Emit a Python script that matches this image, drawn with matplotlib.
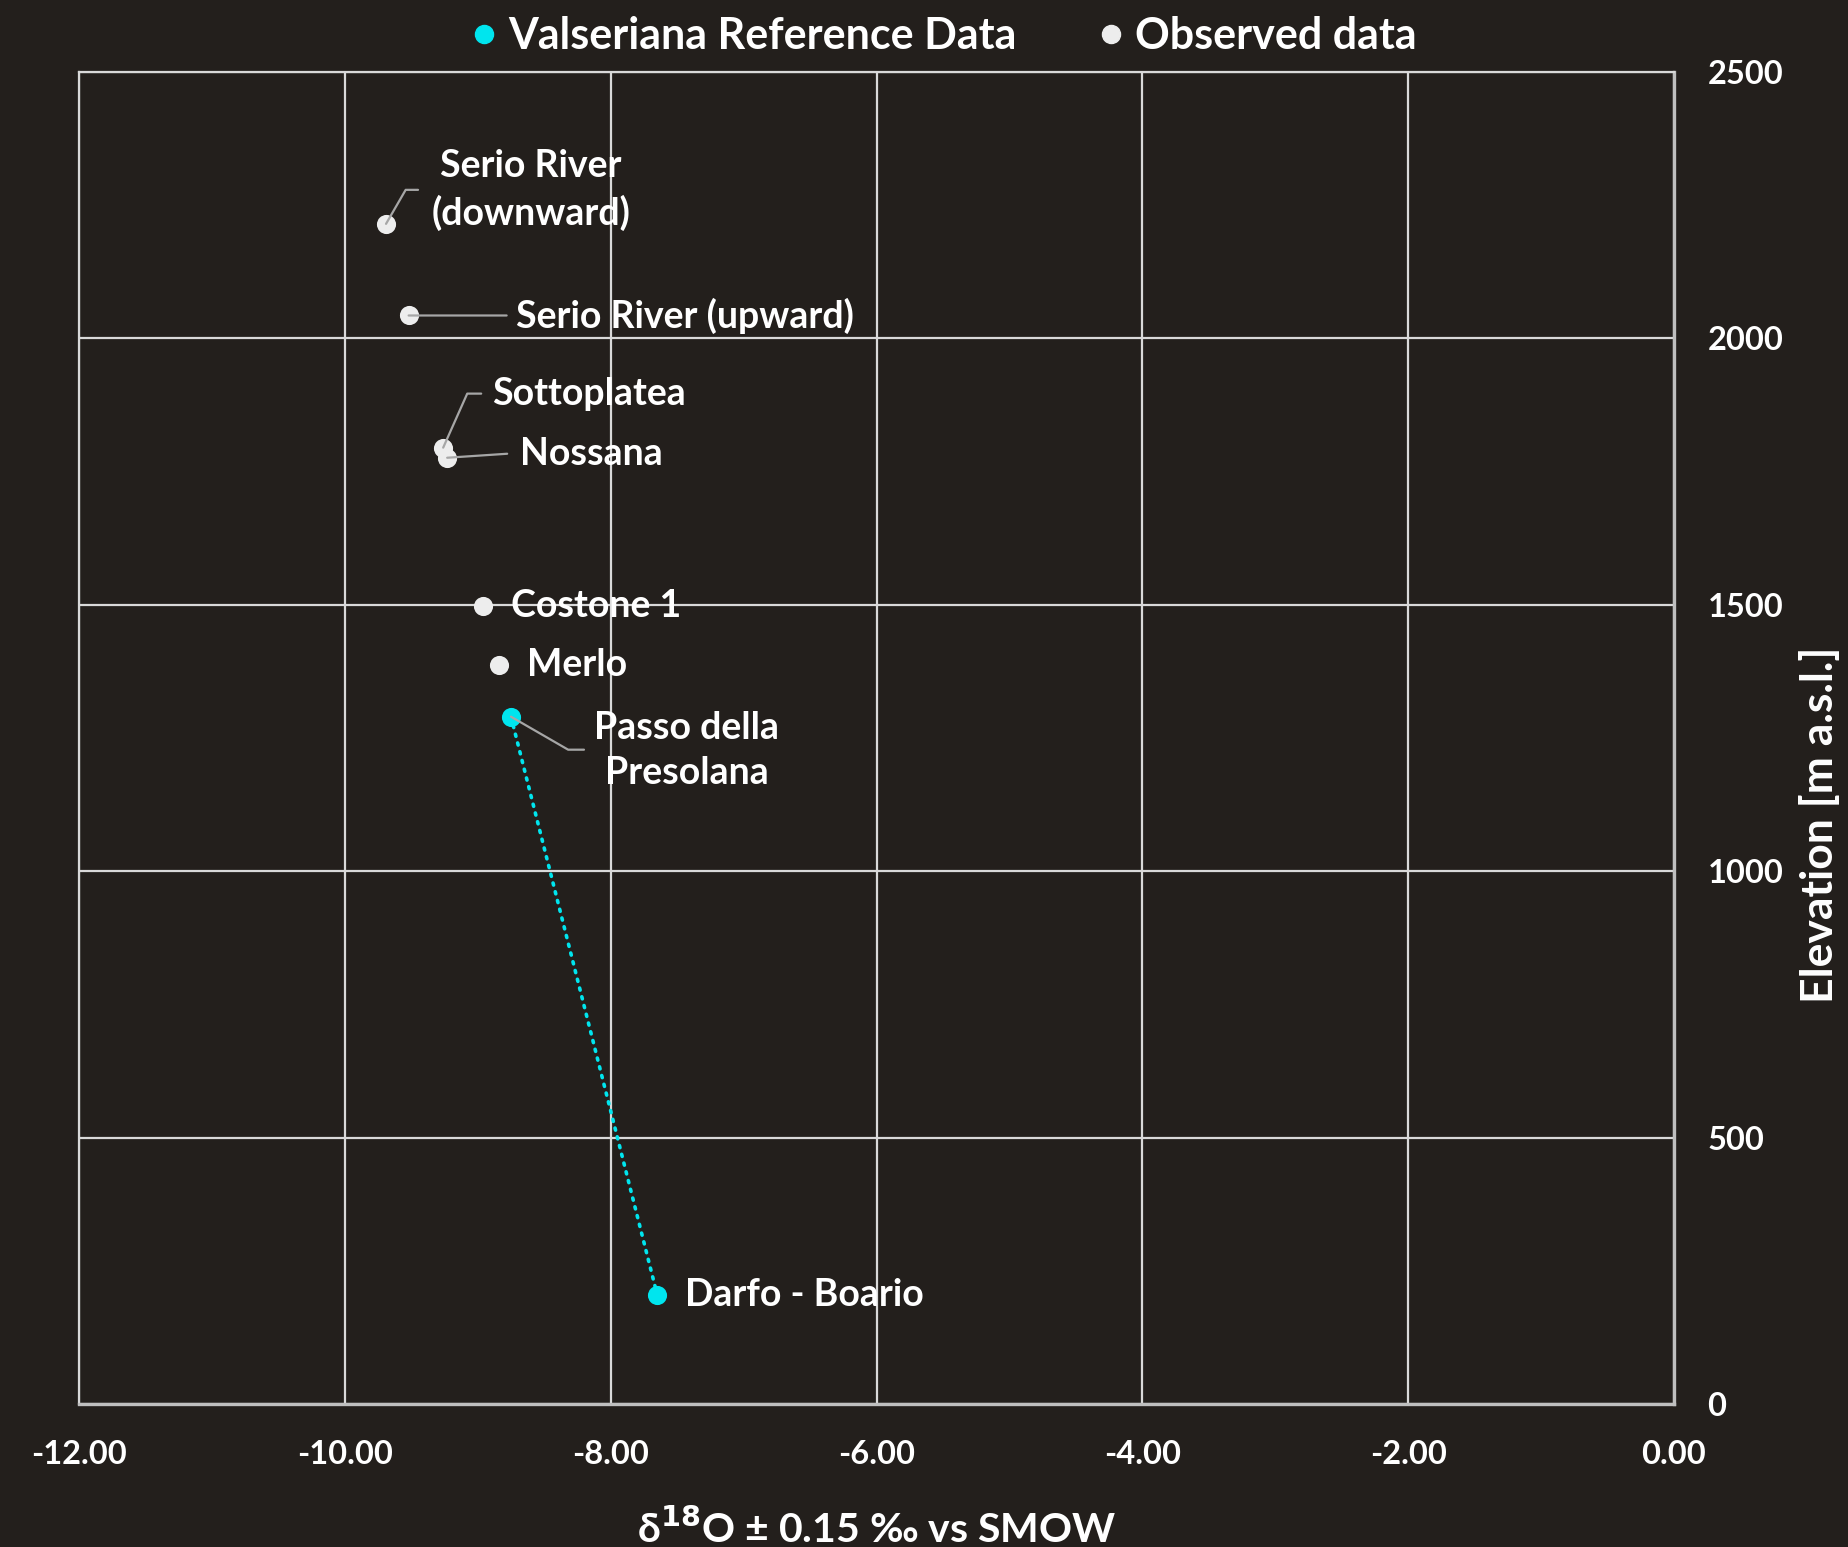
import matplotlib
matplotlib.use("Agg")
import matplotlib.pyplot as plt
from matplotlib.lines import Line2D

# ---- data ----
ref_names = ["Passo della\nPresolana", "Darfo - Boario"]
ref_d18o = [-8.75, -7.65]
ref_elev = [1290, 205]

obs_names = ["Serio River\n(downward)", "Serio River (upward)", "Sottoplatea",
             "Nossana", "Costone 1", "Merlo"]
obs_d18o = [-9.69, -9.52, -9.26, -9.23, -8.96, -8.84]
obs_elev = [2215, 2043, 1795, 1776, 1497, 1387]

x_ticks = [-12, -10, -8, -6, -4, -2, 0]
y_ticks = [0, 500, 1000, 1500, 2000, 2500]

# ---- style ----
BG = "#231F1C"
GRID = "#D9D9D9"
CYAN = "#00E5EE"
WHITE = "#EDEDED"
LEAD = "#A6A6A6"
FONT = ["Lato", "DejaVu Sans"]
plt.rcParams["font.family"] = FONT
plt.rcParams["font.weight"] = "bold"

fig = plt.figure(figsize=(18.48, 15.47), dpi=100, facecolor=BG)
ax = fig.add_axes([79/1848, 143/1547, 1595/1848, 1332/1547])
ax.set_facecolor(BG)

ax.set_xlim(-12, 0)
ax.set_ylim(0, 2500)
ax.set_xticks(x_ticks)
ax.set_yticks(y_ticks)
ax.set_xticklabels([f"{v:.2f}" for v in x_ticks], fontweight="bold")
ax.set_yticklabels([str(v) for v in y_ticks], fontweight="bold")
ax.yaxis.tick_right()
ax.tick_params(axis="both", length=0, colors="white", labelsize=23.5)
ax.tick_params(axis="x", pad=26)
ax.tick_params(axis="y", pad=24)
for lab in ax.get_yticklabels():
    lab.set_horizontalalignment("left")
ax.grid(True, color=GRID, linewidth=1.6)
ax.set_axisbelow(True)
for side, sp in ax.spines.items():
    sp.set_color(GRID)
    sp.set_linewidth(1.6)
ax.spines["bottom"].set_linewidth(2.4)
ax.spines["bottom"].set_color("#BFBFBF")
ax.spines["right"].set_linewidth(2.4)
ax.spines["right"].set_color("#BFBFBF")

# reference line + points
ax.plot(ref_d18o, ref_elev, color=CYAN, linewidth=2.6, linestyle=(0, (0.6, 1.9)),
        dash_capstyle="round", zorder=3)
ax.scatter(ref_d18o, ref_elev, s=190, color=CYAN, zorder=4, linewidths=0)
ax.scatter(obs_d18o, obs_elev, s=190, color=WHITE, zorder=4, linewidths=0)

LBL = dict(color="white", fontsize=27, fontweight="bold")


def label(x, y, text, tdx, tdy, ha="left", leader=None, angleB=None):
    """tdx, tdy: offsets in pixels of text anchor; leader: (ex, ey) leader end offset"""
    ax.annotate(text, xy=(x, y), xytext=(tdx, tdy), textcoords="offset pixels",
                ha=ha, va="center", zorder=6, linespacing=1.38, **LBL)
    if leader is not None:
        ex, ey = leader
        if angleB is None:
            cs = "arc3"
        else:
            cs = f"angle,angleA=0,angleB={angleB},rad=0"
        ax.annotate("", xy=(x, y), xytext=(ex, ey), textcoords="offset pixels",
                    arrowprops=dict(arrowstyle="-", color=LEAD, linewidth=1.6,
                                    shrinkA=0, shrinkB=0, connectionstyle=cs),
                    zorder=5)


# observed labels
label(obs_d18o[0], obs_elev[0], obs_names[0], 145, 34, ha="center", leader=(32, 34), angleB=60)
label(obs_d18o[1], obs_elev[1], obs_names[1], 107, 0, leader=(98, 0))
label(obs_d18o[2], obs_elev[2], obs_names[2], 49, 54, leader=(38, 54), angleB=66)
label(obs_d18o[3], obs_elev[3], obs_names[3], 73, 4, leader=(60, 4))
label(obs_d18o[4], obs_elev[4], obs_names[4], 28, 0)
label(obs_d18o[5], obs_elev[5], obs_names[5], 28, 0)
# reference labels
label(ref_d18o[0], ref_elev[0], ref_names[0], 176, -34, ha="center", leader=(73, -33), angleB=-30)
label(ref_d18o[1], ref_elev[1], ref_names[1], 28, 0)

ax.set_xlabel(r"δ$^{\mathbf{18}}$O ± 0.15 ‰ vs SMOW", color="white", fontsize=29.5,
              fontweight="bold")
ax.xaxis.set_label_coords(0.5, -0.094)
ax.xaxis.label.set_verticalalignment("center")
ax.set_ylabel("Elevation [m a.s.l.]", color="white", fontsize=32, fontweight="bold",
              rotation=90)
ax.yaxis.set_label_position("right")
ax.yaxis.set_label_coords(1.0915, 0.4347)
ax.yaxis.label.set_verticalalignment("center")

handles = [Line2D([], [], marker="o", linestyle="none", color=CYAN, markersize=13),
           Line2D([], [], marker="o", linestyle="none", color=WHITE, markersize=13)]
leg = fig.legend(handles, ["Valseriana Reference Data", "Observed data"],
                 loc="center", bbox_to_anchor=(0.5097, 0.977), ncol=2, frameon=False,
                 fontsize=31, handletextpad=0.15, columnspacing=1.8, handlelength=0.8)
for t in leg.get_texts():
    t.set_color("white")
    t.set_fontweight("bold")

fig.savefig("out.png", dpi=100, facecolor=BG)
